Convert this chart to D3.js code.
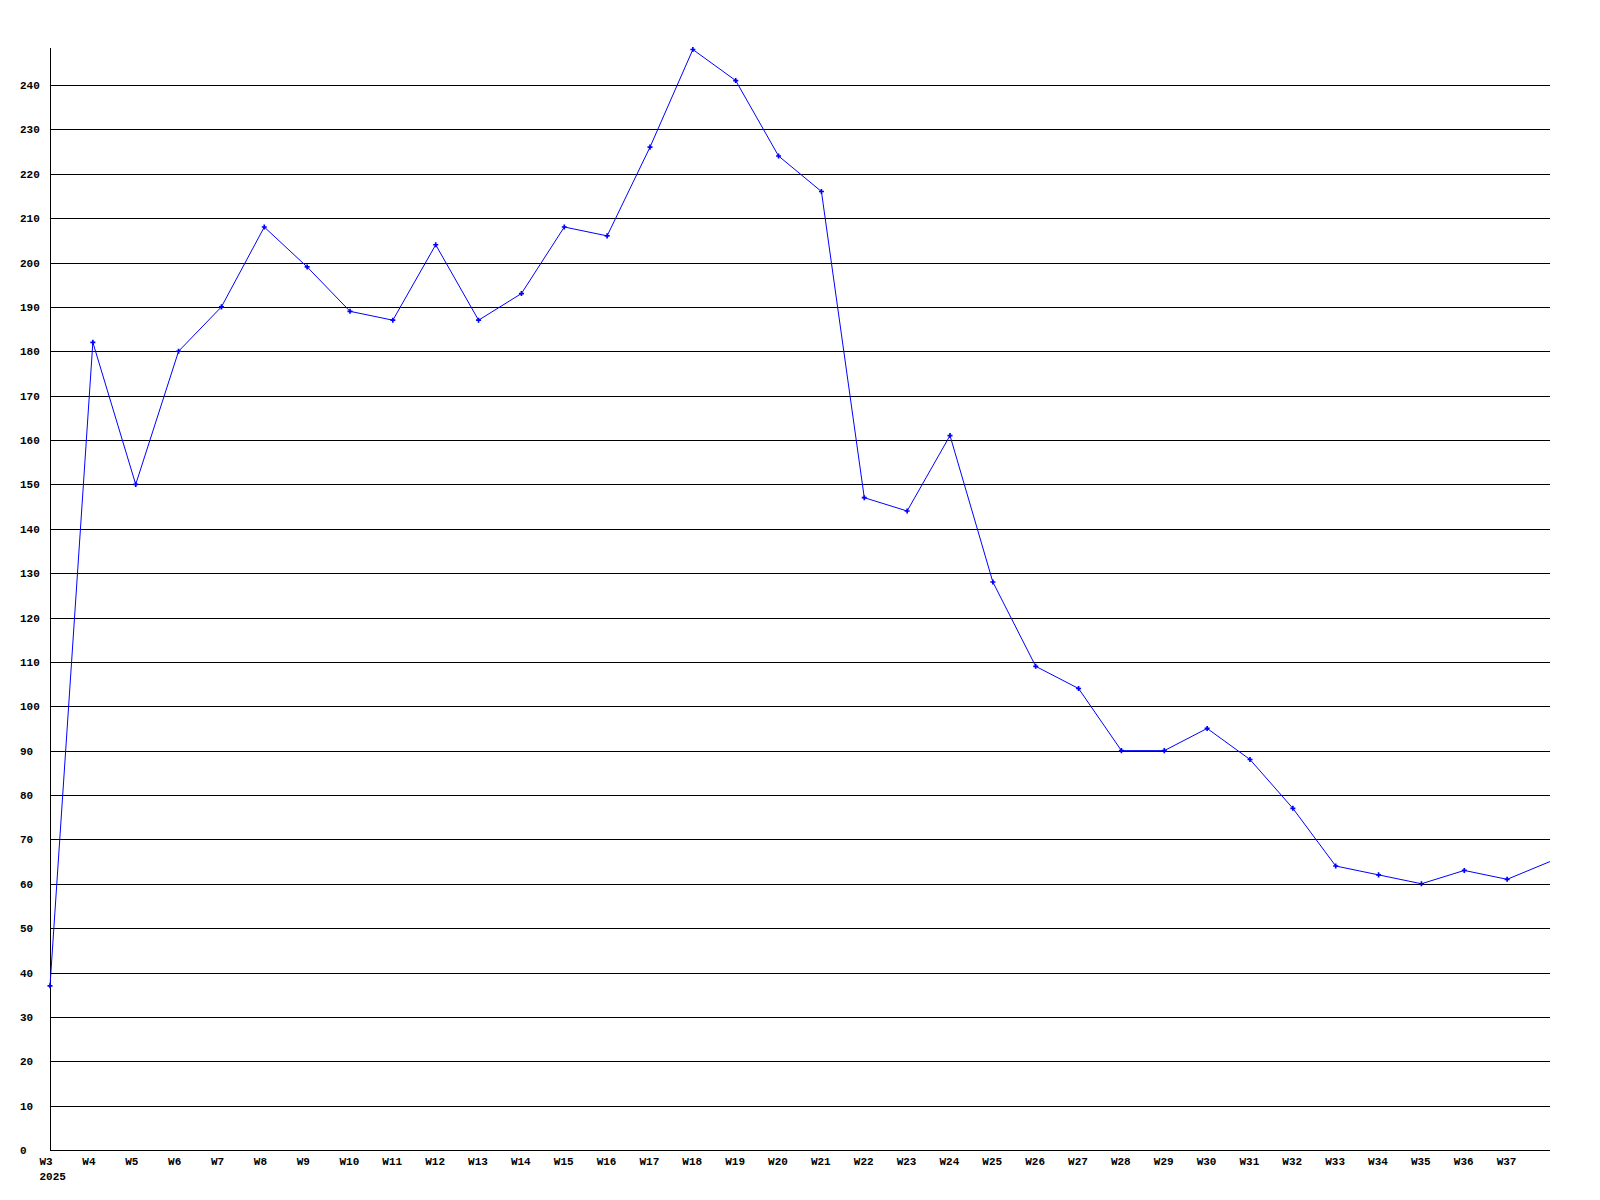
<!DOCTYPE html>
<html>
<head>
<meta charset="utf-8">
<script src="https://cdn.jsdelivr.net/npm/d3@7"></script>
<style>
html,body{margin:0;padding:0;background:#fff;}
svg{display:block;}
text{font-family:"Liberation Mono","DejaVu Sans Mono",monospace;font-weight:bold;font-size:11px;fill:#000;}
</style>
</head>
<body>
<svg id="chart" width="1600" height="1200"></svg>
<script>
const weeks = ["W3","W4","W5","W6","W7","W8","W9","W10","W11","W12","W13","W14","W15","W16","W17","W18","W19","W20","W21","W22","W23","W24","W25","W26","W27","W28","W29","W30","W31","W32","W33","W34","W35","W36","W37","W38"];
const values = [37,182,150,180,190,208,199,189,187,204,187,193,208,206,226,248,241,224,216,147,144,161,128,109,104,90,90,95,88,77,64,62,60,63,61,65];
const markedCount = 35; // last point drawn without marker
const tickLabels = weeks.slice(0, 35);
const yTicks = d3.range(0, 250, 10);
const yearLabel = "2025";

const svg = d3.select("#chart");
const left = 50, right = 1550, bottom = 1150;
const x = d3.scaleLinear().domain([0, weeks.length - 1]).range([left, right]);
const y = d3.scaleLinear().domain([0, 240]).range([bottom, 85]);

// gridlines
svg.append("g").selectAll("line").data(yTicks).join("line")
  .attr("x1", left).attr("x2", right)
  .attr("y1", d => Math.round(y(d)) + 0.5).attr("y2", d => Math.round(y(d)) + 0.5)
  .attr("stroke", "#000").attr("stroke-width", 1).attr("shape-rendering", "crispEdges");

// y labels
svg.append("g").selectAll("text").data(yTicks).join("text")
  .attr("x", 20).attr("y", d => Math.round(y(d)) + 4)
  .text(d => d);

// y axis line
svg.append("line")
  .attr("x1", left + 0.5).attr("x2", left + 0.5)
  .attr("y1", Math.round(y(d3.max(values))) - 1).attr("y2", bottom + 1)
  .attr("stroke", "#000").attr("stroke-width", 1).attr("shape-rendering", "crispEdges");

// x labels
svg.append("g").selectAll("text").data(tickLabels).join("text")
  .attr("x", (d, i) => x(i) - 10.5).attr("y", 1165)
  .text(d => d);
svg.append("text").attr("x", x(0) - 10.5).attr("y", 1180).text(yearLabel);

// line
const line = d3.line().x((d, i) => x(i)).y(d => y(d));
svg.append("path").datum(values)
  .attr("d", line).attr("fill", "none").attr("stroke", "#0000ff").attr("stroke-width", 1);

// markers
svg.append("g").selectAll("path").data(values.slice(0, markedCount)).join("path")
  .attr("transform", (d, i) => `translate(${x(i)},${y(d)})`)
  .attr("d", d3.symbol().type(d3.symbolCross).size(14))
  .attr("fill", "#0000ff");
</script>
</body>
</html>
